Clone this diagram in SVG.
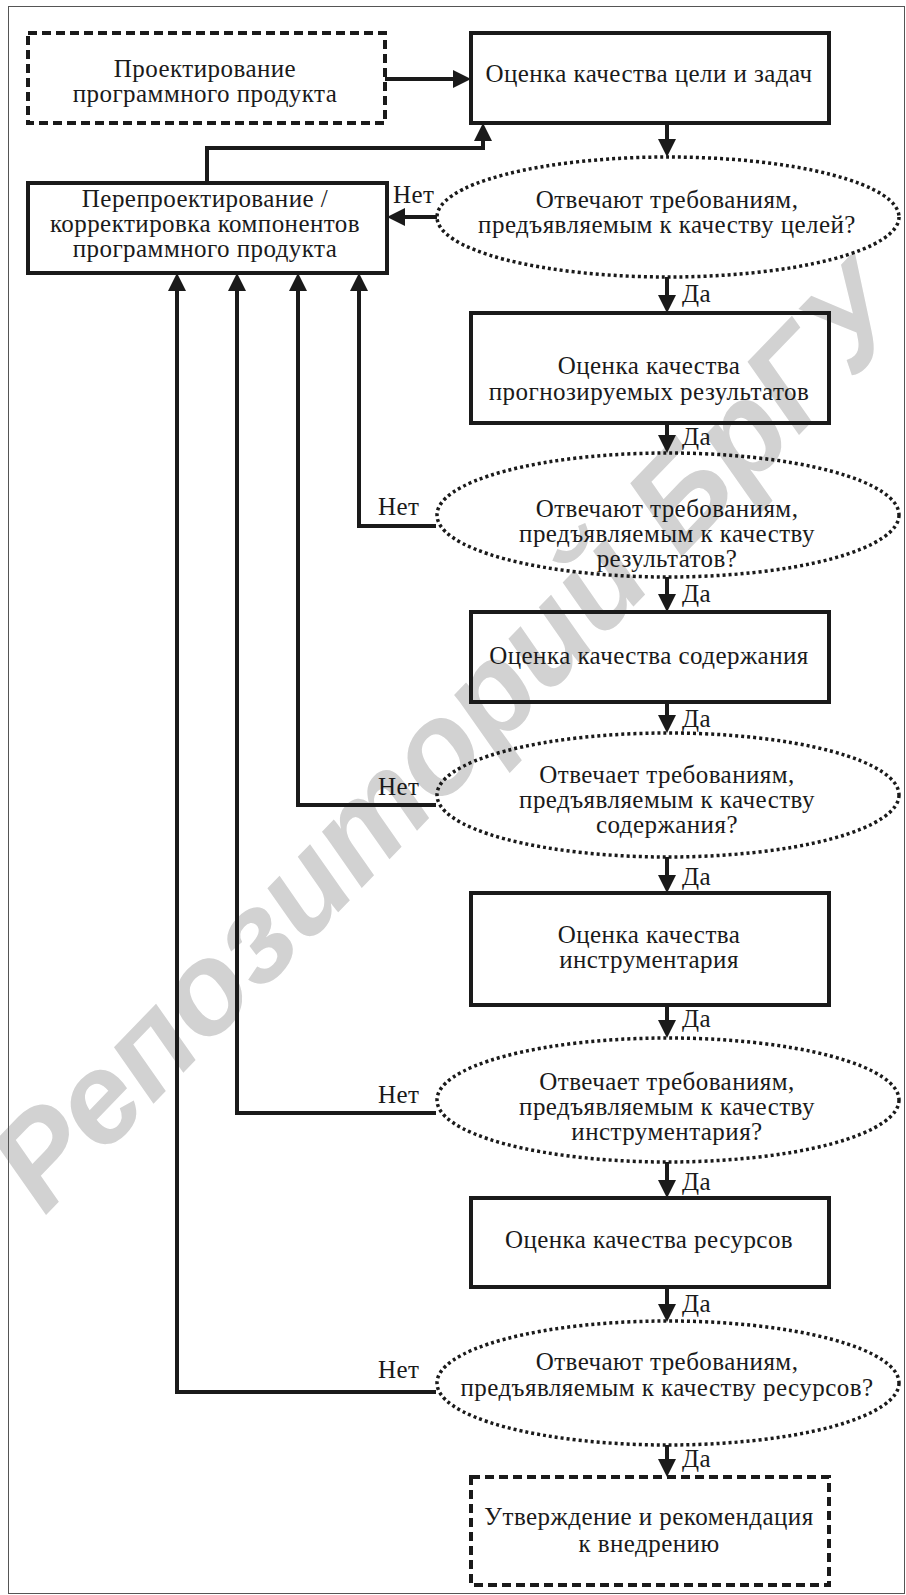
<svg xmlns="http://www.w3.org/2000/svg" width="906" height="1595" viewBox="0 0 906 1595">
<style>
.t{font-family:"Liberation Serif","Times New Roman",serif;font-size:25px;letter-spacing:0.45px;fill:#1a1a1a;text-anchor:middle}
.l{font-family:"Liberation Serif","Times New Roman",serif;font-size:25px;letter-spacing:0.45px;fill:#1a1a1a}
.box{fill:none;stroke:#1a1a1a;stroke-width:4}
.dash{fill:none;stroke:#1a1a1a;stroke-width:4;stroke-dasharray:9 5}
.ell{fill:none;stroke:#1a1a1a;stroke-width:3.5;stroke-dasharray:3 3}
.c{fill:none;stroke:#1a1a1a;stroke-width:4;marker-end:url(#ah)}
.wm{font-family:"Liberation Sans",Arial,sans-serif;font-weight:bold;font-style:italic;font-size:128px;fill:#d2d2d2;text-anchor:middle}
</style>
<defs>
<marker id="ah" viewBox="0 0 18 18" markerWidth="18" markerHeight="18" refX="8" refY="9" orient="auto" markerUnits="userSpaceOnUse">
<path d="M0,0 L18,9 L0,18 z" fill="#1a1a1a"/>
</marker>
</defs>
<rect width="906" height="1595" fill="#fff"/>
<text class="wm" transform="translate(446,736) rotate(-46)" dy="45">Репозиторий БрГУ</text>
<rect x="8.5" y="6.5" width="896" height="1587" fill="none" stroke="#555" stroke-width="1"/>

<g id="connectors">
<path class="c" d="M385,79 H461"/>
<path class="c" d="M207,183 V148 H483 V133"/>
<path class="c" d="M437,217 H397"/>
<path class="c" d="M436,526 H359 V283"/>
<path class="c" d="M436,805 H298 V283"/>
<path class="c" d="M436,1113 H237 V283"/>
<path class="c" d="M436,1392 H177 V283"/>
<path class="c" d="M667,125 V147"/>
<path class="c" d="M667,277 V303"/>
<path class="c" d="M667,425 V443"/>
<path class="c" d="M667,577 V602"/>
<path class="c" d="M667,704 V723"/>
<path class="c" d="M667,857 V883"/>
<path class="c" d="M667,1007 V1028"/>
<path class="c" d="M667,1162 V1188"/>
<path class="c" d="M667,1289 V1312"/>
<path class="c" d="M667,1445 V1467"/>
<text class="l" x="393" y="203">Нет</text>
<text class="l" x="378" y="515">Нет</text>
<text class="l" x="378" y="795">Нет</text>
<text class="l" x="378" y="1103">Нет</text>
<text class="l" x="378" y="1378">Нет</text>
<text class="l" x="682" y="302">Да</text>
<text class="l" x="682" y="445">Да</text>
<text class="l" x="682" y="602">Да</text>
<text class="l" x="682" y="727">Да</text>
<text class="l" x="682" y="885">Да</text>
<text class="l" x="682" y="1027">Да</text>
<text class="l" x="682" y="1190">Да</text>
<text class="l" x="682" y="1312">Да</text>
<text class="l" x="682" y="1467">Да</text>
</g>

<g id="design">
<rect class="dash" x="28" y="33" width="357" height="90"/>
<text class="t" x="205" y="77">Проектирование</text>
<text class="t" x="205" y="102">программного продукта</text>
</g>

<g id="goals">
<rect class="box" x="471" y="33" width="358" height="90"/>
<text class="t" x="649" y="82">Оценка качества цели и задач</text>
</g>

<g id="redesign">
<rect class="box" x="28" y="183" width="359" height="90"/>
<text class="t" x="205" y="207">Перепроектирование /</text>
<text class="t" x="205" y="232">корректировка компонентов</text>
<text class="t" x="205" y="257">программного продукта</text>
</g>

<g id="q1">
<ellipse class="ell" cx="668" cy="217" rx="231" ry="60"/>
<text class="t" x="667" y="208">Отвечают требованиям,</text>
<text class="t" x="667" y="233">предъявляемым к качеству целей?</text>
</g>

<g id="results">
<rect class="box" x="471" y="313" width="358" height="110"/>
<text class="t" x="649" y="374">Оценка качества</text>
<text class="t" x="649" y="400">прогнозируемых результатов</text>
</g>

<g id="q2">
<ellipse class="ell" cx="668" cy="515" rx="231" ry="62"/>
<text class="t" x="667" y="517">Отвечают требованиям,</text>
<text class="t" x="667" y="542">предъявляемым к качеству</text>
<text class="t" x="667" y="567">результатов?</text>
</g>

<g id="content">
<rect class="box" x="471" y="612" width="358" height="90"/>
<text class="t" x="649" y="664">Оценка качества содержания</text>
</g>

<g id="q3">
<ellipse class="ell" cx="668" cy="795" rx="231" ry="62"/>
<text class="t" x="667" y="783">Отвечает требованиям,</text>
<text class="t" x="667" y="808">предъявляемым к качеству</text>
<text class="t" x="667" y="833">содержания?</text>
</g>

<g id="tools">
<rect class="box" x="471" y="893" width="358" height="112"/>
<text class="t" x="649" y="943">Оценка качества</text>
<text class="t" x="649" y="968">инструментария</text>
</g>

<g id="q4">
<ellipse class="ell" cx="668" cy="1100" rx="231" ry="62"/>
<text class="t" x="667" y="1090">Отвечает требованиям,</text>
<text class="t" x="667" y="1115">предъявляемым к качеству</text>
<text class="t" x="667" y="1140">инструментария?</text>
</g>

<g id="resources">
<rect class="box" x="471" y="1198" width="358" height="89"/>
<text class="t" x="649" y="1248">Оценка качества ресурсов</text>
</g>

<g id="q5">
<ellipse class="ell" cx="668" cy="1383" rx="231" ry="62"/>
<text class="t" x="667" y="1370">Отвечают требованиям,</text>
<text class="t" x="667" y="1396">предъявляемым к качеству ресурсов?</text>
</g>

<g id="approval">
<rect class="dash" x="471" y="1477" width="358" height="108"/>
<text class="t" x="649" y="1525">Утверждение и рекомендация</text>
<text class="t" x="649" y="1552">к внедрению</text>
</g>
</svg>
